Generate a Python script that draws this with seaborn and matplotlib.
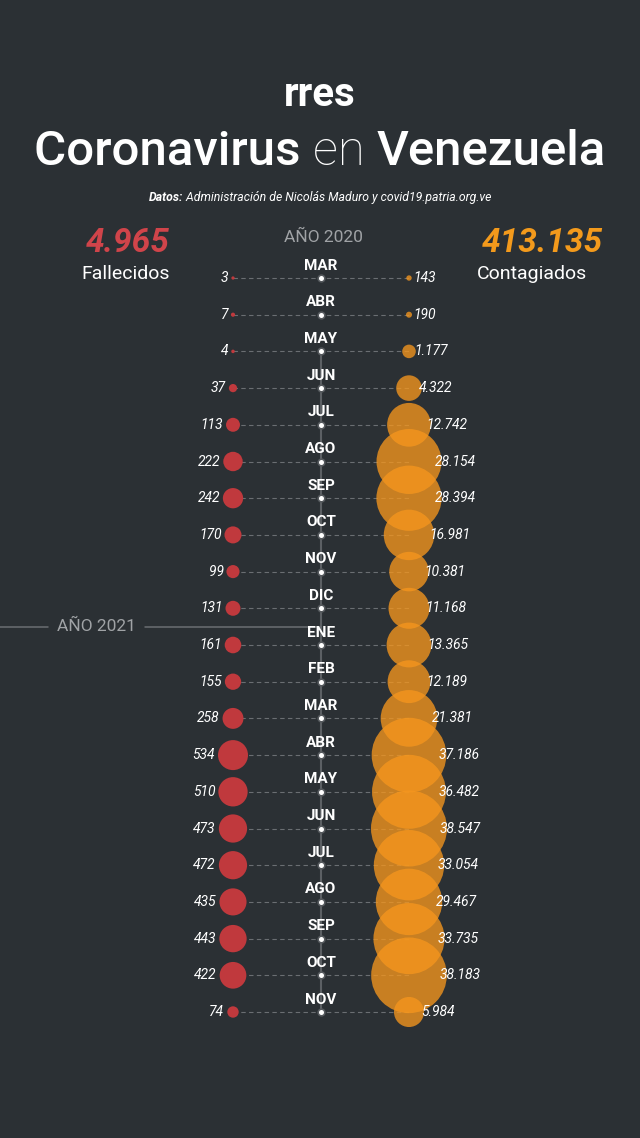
import matplotlib
matplotlib.use("Agg")
import matplotlib.pyplot as plt
import seaborn as sns
import pandas as pd
import numpy as np

months = ["MAR", "ABR", "MAY", "JUN", "JUL", "AGO", "SEP", "OCT", "NOV", "DIC",
          "ENE", "FEB", "MAR", "ABR", "MAY", "JUN", "JUL", "AGO", "SEP", "OCT", "NOV"]
deaths = [3, 7, 4, 37, 113, 222, 242, 170, 99, 131,
          161, 155, 258, 534, 510, 473, 472, 435, 443, 422, 74]
cases = [143, 190, 1177, 4322, 12742, 28154, 28394, 16981, 10381, 11168,
         13365, 12189, 21381, 37186, 36482, 38547, 33054, 29467, 33735, 38183, 5984]
death_labels = ["3", "7", "4", "37", "113", "222", "242", "170", "99", "131",
                "161", "155", "258", "534", "510", "473", "472", "435", "443", "422", "74"]
case_labels = ["143", "190", "1.177", "4.322", "12.742", "28.154", "28.394", "16.981", "10.381", "11.168",
               "13.365", "12.189", "21.381", "37.186", "36.482", "38.547", "33.054", "29.467", "33.735", "38.183", "5.984"]
total_deaths = "4.965"
total_cases = "413.135"

BG = "#2b3034"
RED = "#c0393d"
ORANGE = "#f5961e"
LINE = "#5c6064"
FONT = ["Roboto", "DejaVu Sans"]

sns.set_theme(style="white")
plt.rcParams["font.family"] = FONT

W, H = 640, 1138
fig = plt.figure(figsize=(W / 100, H / 100), dpi=100, facecolor=BG)
ax = fig.add_axes([0, 0, 1, 1])
ax.set_facecolor(BG)
ax.set_xlim(0, W)
ax.set_ylim(H, 0)
ax.axis("off")

X_L, X_C, X_R = 233, 321, 409
Y0, DY = 278, 36.7
n = len(months)
df = pd.DataFrame({
    "month": months,
    "deaths": deaths,
    "cases": cases,
    "row": np.arange(n),
})
df["y"] = Y0 + df["row"] * DY
df["xl"] = X_L
df["xc"] = X_C
df["xr"] = X_R

PX2PT = 0.72
r_death_max = 15.0
r_case_max = 38.0
vmax_d = max(deaths)
vmax_c = max(cases)
smax_d = (2 * r_death_max * PX2PT) ** 2
smax_c = (2 * r_case_max * PX2PT) ** 2

# dashed connectors
for _, row in df.iterrows():
    ax.plot([X_L, X_R], [row.y, row.y], color="#6a6e72", lw=0.8,
            ls=(0, (4, 3)), zorder=1)

# central vertical spine
ax.plot([X_C, X_C], [df.y.iloc[2], df.y.iloc[-1]], color=LINE, lw=1.5, zorder=1)

# AÑO 2021 marker line
y21 = (df.y.iloc[9] + df.y.iloc[10]) / 2
ax.plot([0, 48], [y21, y21], color="#6a6e72", lw=1.1, zorder=1)
ax.plot([145, X_C], [y21, y21], color="#6a6e72", lw=1.1, zorder=1)
ax.text(96, y21, "AÑO 2021", color="#a0a3a6", fontsize=12.5, ha="center", va="center")

# bubbles
sns.scatterplot(data=df, x="xl", y="y", size="deaths", sizes=(3, smax_d),
                size_norm=(0, vmax_d), color=RED, alpha=1.0, linewidth=0,
                legend=False, ax=ax, zorder=3)
sns.scatterplot(data=df, x="xr", y="y", size="cases", sizes=(4, smax_c),
                size_norm=(0, vmax_c), color=ORANGE, alpha=0.78, linewidth=0,
                legend=False, ax=ax, zorder=3)
# centre dots
sns.scatterplot(data=df, x="xc", y="y", s=36, color="#55595d", linewidth=0,
                legend=False, ax=ax, zorder=4)
sns.scatterplot(data=df, x="xc", y="y", s=13, color="white", linewidth=0,
                legend=False, ax=ax, zorder=5)

# labels
for i, row in df.iterrows():
    rd = r_death_max * np.sqrt(row.deaths / vmax_d)
    rc = r_case_max * np.sqrt(row.cases / vmax_c)
    ax.text(X_C, row.y - 12.5, row.month, color="white", fontsize=11, fontweight="bold",
            ha="center", va="center", zorder=6)
    ax.text(X_L - max(rd, 1.5) - 3, row.y, death_labels[i], color="white", fontsize=10,
            fontstyle="italic", ha="right", va="center", zorder=6)
    ax.text(X_R + max(4, 0.8 * rc), row.y, case_labels[i], color="white", fontsize=10,
            fontstyle="italic", ha="left", va="center", zorder=6)

# header
renderer = fig.canvas.get_renderer()
ax.text(320, 95, "rres", color="white", fontsize=29, fontweight="bold",
        ha="center", va="center")
title_parts = [("Coronavirus ", "medium"), ("en ", "light"), ("Venezuela", "medium")]
texts = []
for s, w in title_parts:
    t = ax.text(0, 152, s, color="white", fontsize=35.5, fontweight=w,
                ha="left", va="center")
    texts.append(t)
widths = [t.get_window_extent(renderer=renderer).width for t in texts]
x = 320 - sum(widths) / 2
for t, wdt in zip(texts, widths):
    t.set_x(x)
    x += wdt

src_a = ax.text(0, 197, "Datos:", color="white", fontsize=8.8, fontweight="bold",
                fontstyle="italic", ha="left", va="center")
src_b = ax.text(0, 197, " Administración de Nicolás Maduro y covid19.patria.org.ve",
                color="white", fontsize=8.8, fontstyle="italic", ha="left", va="center")
wa = src_a.get_window_extent(renderer=renderer).width
wb = src_b.get_window_extent(renderer=renderer).width
xs = 320 - (wa + wb) / 2
src_a.set_x(xs)
src_b.set_x(xs + wa)

ax.text(128, 243, total_deaths, color="#d0444a", fontsize=24, fontweight="bold",
        fontstyle="italic", ha="center", va="center")
ax.text(126, 274, "Fallecidos", color="white", fontsize=14, ha="center", va="center")
ax.text(542, 243, total_cases, color="#f39a1c", fontsize=24, fontweight="bold",
        fontstyle="italic", ha="center", va="center")
ax.text(532, 274, "Contagiados", color="white", fontsize=14, ha="center", va="center")
ax.text(323, 237, "AÑO 2020", color="#a0a3a6", fontsize=12.5, ha="center", va="center")

fig.savefig("out.png", dpi=100, facecolor=BG)
